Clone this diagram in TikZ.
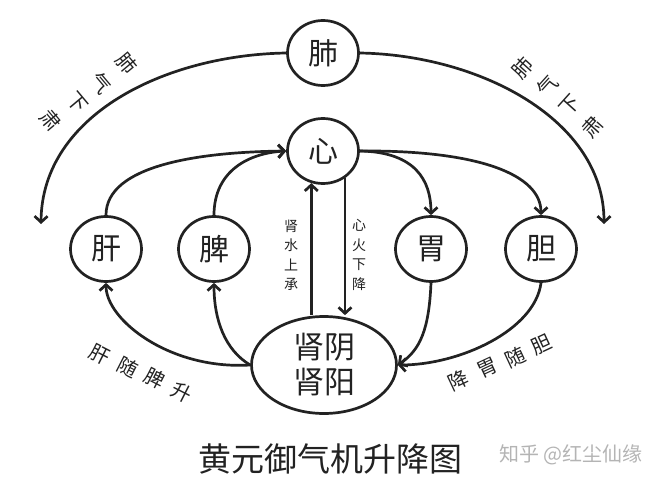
\documentclass[tikz,border=0pt]{standalone}
\usepackage{fontspec}
\usepackage{tikz}
\usetikzlibrary{arrows.meta,positioning,calc,shapes.geometric}
\newfontfamily\cjk{Noto Sans CJK SC}
\definecolor{inkgray}{HTML}{222222}
\definecolor{markgray}{HTML}{B4B4B4}

\begin{document}
\begin{tikzpicture}[x=1pt, y=-1pt, every node/.style={font=\cjk, text=inkgray},
  organ/.style={ellipse, draw=inkgray, line width=2.7pt, minimum width=71pt, minimum height=65pt, inner sep=0pt, font=\cjk\fontsize{30}{30}\selectfont},
  flow/.style={draw=inkgray, line width=2.7pt, -{Straight Barb[length=6pt, width=13pt]}},
  tag/.style={inner sep=0pt, font=\cjk\fontsize{20}{20}\selectfont},
  note/.style={inner sep=0pt, align=center, font=\cjk\fontsize{14}{19.5}\selectfont}]
  \useasboundingbox (0,0) rectangle (659,484);
  % organs
  \node[organ] (fei) at (323,53) {肺};
  \node[organ] (xin) at (323,151) {心};
  \node[organ] (gan) at (106,249) {肝};
  \node[organ] (pi) at (214,249) {脾};
  \node[organ] (wei) at (431,249) {胃};
  \node[organ] (dan) at (541,249) {胆};
  \node[organ, minimum width=145pt, minimum height=97pt, align=center, font=\cjk\fontsize{31}{35}\selectfont] (shen) at (324,365) {肾阴\\肾阳};
  \coordinate (lend) at (41,224);
  \coordinate (rend) at (604,224);
  % lung qi descends
  \draw[flow] (fei.west) .. controls (165,55) and (42,115) .. (lend);
  \draw[flow] (fei.east) .. controls (480,55) and (604,120) .. (rend);
  % rising to the heart
  \draw[flow] (gan.north) .. controls (106,165) and (200,152) .. (xin.west);
  \draw[flow] (pi.north) .. controls (214,170) and (250,153) .. (xin.west);
  \draw[flow] (xin.east) .. controls (415,152) and (431,180) .. (wei.north);
  \draw[flow] (xin.east) .. controls (480,150) and (541,175) .. (dan.north);
  \draw[flow] (xin.250 |- shen.north) -- (xin.250);
  \draw[flow] (xin.-51) -- (xin.-51 |- shen.north);
  \draw[flow] (shen.west) .. controls (170,370) and (106,320) .. (gan.south);
  \draw[flow] (shen.west) .. controls (225,350) and (214,320) .. (pi.south);
  \draw[flow] (wei.south) .. controls (429,330) and (420,350) .. (shen.east);
  \draw[flow] (dan.south) .. controls (535,330) and (460,365) .. (shen.east);
  % labels
  \node[note] (up) at (291,255) {肾\\水\\上\\承};
  \node[note] (down) at (359,255) {心\\火\\下\\降};
  \foreach \ch/\px/\py [count=\i] in {肺/127/63, 气/101/83, 下/77/103, 肃/51/120}
    \node[tag, rotate=-50] (tl\i) at (\px,\py) {\ch};
  \foreach \ch/\px/\py [count=\i] in {肺/523/68, 气/548/86, 下/570/105, 肃/593/127}
    \node[tag, rotate=48] (tr\i) at (\px,\py) {\ch};
  \foreach \ch/\px/\py [count=\i] in {肝/100/355, 随/128/367, 脾/155/378, 升/182/392}
    \node[tag, rotate=-27] (bl\i) at (\px,\py) {\ch};
  \foreach \ch/\px/\py [count=\i] in {胆/542/345, 随/515/357, 胃/488/368, 降/458/380}
    \node[tag, rotate=25] (br\i) at (\px,\py) {\ch};
  \node[font=\cjk\fontsize{33}{33}\selectfont] (title) at (330,459) {黄元御气机升降图};
  \node[text=markgray, font=\cjk\fontsize{20}{20}\selectfont] (mark) at (571,455) {知乎 @红尘仙缘};
\end{tikzpicture}
\end{document}
